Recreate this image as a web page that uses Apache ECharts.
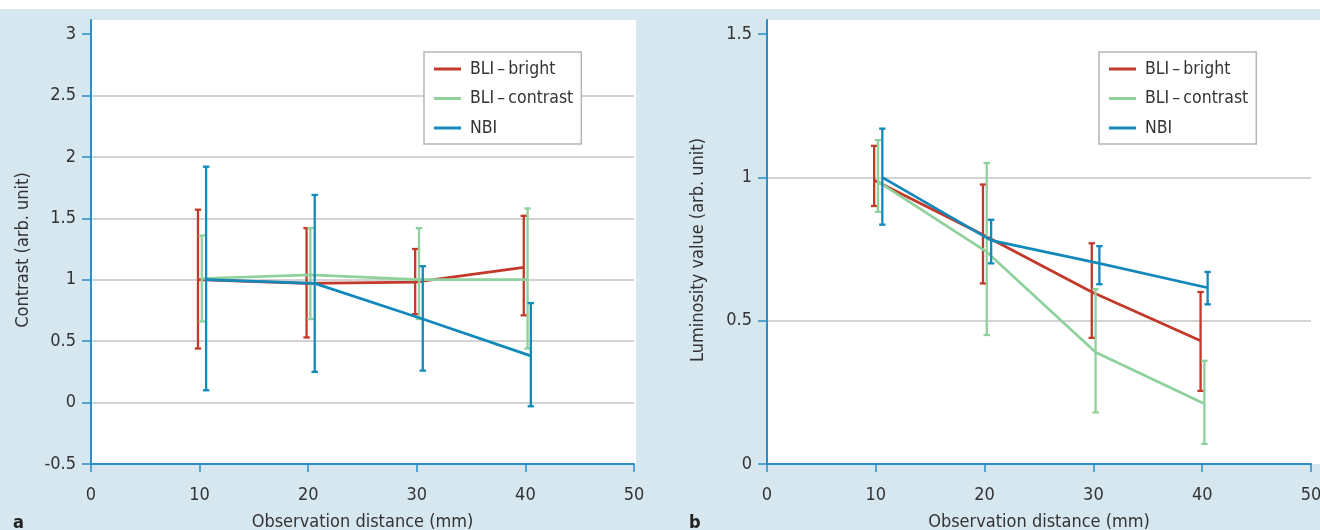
<!DOCTYPE html>
<html>
<head>
<meta charset="utf-8">
<script src="https://cdn.jsdelivr.net/npm/echarts@6.0.0/dist/echarts.min.js"></script>
<style>
  html, body { margin: 0; padding: 0; background: #ffffff; }
  #chart { width: 1320px; height: 530px; }
</style>
</head>
<body>
<div id="chart"></div>
<script>
// ---------- data ----------
const seriesNames = ['BLI\u2009\u2013\u2009bright', 'BLI\u2009\u2013\u2009contrast', 'NBI'];
const xTicks = [0, 10, 20, 30, 40, 50];
const yTicksA = [-0.5, 0, 0.5, 1, 1.5, 2, 2.5, 3];
const yTicksB = [0, 0.5, 1, 1.5];

// observation distances as plotted (slightly staggered per series)
const brightX   = [9.85, 19.85, 29.85, 39.85];
const contrastX = [10.2, 20.2, 30.2, 40.2];
const nbiX      = [10.6, 20.6, 30.55, 40.5];

// panel a: contrast
const brightMeanA   = [1.00, 0.97, 0.98, 1.10];
const brightLowA    = [0.44, 0.53, 0.72, 0.71];
const brightHighA   = [1.57, 1.42, 1.25, 1.52];
const contrastMeanA = [1.01, 1.04, 1.00, 1.00];
const contrastLowA  = [0.66, 0.68, 0.68, 0.44];
const contrastHighA = [1.36, 1.42, 1.42, 1.58];
const nbiMeanA      = [1.00, 0.97, 0.68, 0.38];
const nbiLowA       = [0.10, 0.25, 0.26, -0.03];
const nbiHighA      = [1.92, 1.69, 1.11, 0.81];

// panel b: luminosity
const brightMeanB   = [0.99, 0.80, 0.60, 0.43];
const brightLowB    = [0.90, 0.63, 0.44, 0.255];
const brightHighB   = [1.11, 0.975, 0.77, 0.60];
const contrastMeanB = [0.985, 0.74, 0.39, 0.21];
const contrastLowB  = [0.88, 0.45, 0.18, 0.07];
const contrastHighB = [1.13, 1.05, 0.61, 0.36];
const nbiMeanB      = [1.00, 0.78, 0.70, 0.615];
const nbiLowB       = [0.835, 0.70, 0.627, 0.557];
const nbiHighB      = [1.17, 0.852, 0.76, 0.67];

// ---------- styling ----------
const colors = ['#c4382a', '#8fd19c', '#1288bb'];
const axisBlue = '#2a8fc6';
const bgBlue = '#d7e7f0';
const FONT = '"Liberation Sans Narrow", "DejaVu Sans Condensed", "Roboto Condensed", "Open Sans", sans-serif';
const textColor = '#333333';

function zip2(xs, ys) { return xs.map((x, i) => [x, ys[i]]); }
function zip3(xs, lo, hi) { return xs.map((x, i) => [x, lo[i], hi[i]]); }

function errRender(params, api) {
  const x = api.value(0), lo = api.value(1), hi = api.value(2);
  const p1 = api.coord([x, lo]);
  const p2 = api.coord([x, hi]);
  const hw = 3.2;
  const style = { stroke: api.visual('color'), lineWidth: 2.3 };
  return {
    type: 'group',
    children: [
      { type: 'line', shape: { x1: p1[0], y1: p1[1], x2: p2[0], y2: p2[1] }, style: style },
      { type: 'line', shape: { x1: p1[0] - hw, y1: p1[1], x2: p1[0] + hw, y2: p1[1] }, style: style },
      { type: 'line', shape: { x1: p2[0] - hw, y1: p2[1], x2: p2[0] + hw, y2: p2[1] }, style: style }
    ]
  };
}

function panelSeries(gridIdx, xsArr, means, lows, highs) {
  const out = [];
  for (let i = 0; i < 3; i++) {
    out.push({
      type: 'custom', name: seriesNames[i],
      xAxisIndex: gridIdx, yAxisIndex: gridIdx,
      renderItem: errRender,
      itemStyle: { color: colors[i] },
      encode: { x: 0, y: [1, 2] },
      data: zip3(xsArr[i], lows[i], highs[i]),
      z: 3 + i * 2, silent: true
    });
    out.push({
      type: 'line', name: seriesNames[i],
      xAxisIndex: gridIdx, yAxisIndex: gridIdx,
      showSymbol: false, symbol: 'none',
      lineStyle: { color: colors[i], width: 2.7 },
      itemStyle: { color: colors[i] },
      data: zip2(xsArr[i], means[i]),
      z: 4 + i * 2, silent: true, animation: false
    });
  }
  return out;
}

const xsArr = [brightX, contrastX, nbiX];

function xAxisCfg(gridIndex) {
  return {
    type: 'value', gridIndex: gridIndex, min: 0, max: 50, interval: 10,
    name: 'Observation distance (mm)', nameLocation: 'middle', nameGap: 49,
    nameTextStyle: { fontFamily: FONT, fontSize: 18, color: textColor },
    axisLine: { show: true, onZero: false, lineStyle: { color: axisBlue, width: 2 } },
    axisTick: { show: true, length: 8, lineStyle: { color: axisBlue, width: 1.5 } },
    axisLabel: { fontFamily: FONT, fontSize: 18, color: textColor, margin: 22, customValues: xTicks },
    splitLine: { show: false }
  };
}
function yAxisCfg(gridIndex, min, max, interval, ticks, name, nameGap) {
  return {
    type: 'value', gridIndex: gridIndex, min: min, max: max, interval: interval,
    name: name, nameLocation: 'middle', nameGap: nameGap,
    nameTextStyle: { fontFamily: FONT, fontSize: 18, color: textColor, padding: [0, 16, 0, 0] },
    axisLine: { show: true, onZero: false, lineStyle: { color: axisBlue, width: 2 } },
    axisTick: { show: true, length: 9, lineStyle: { color: axisBlue, width: 1.5 }, customValues: ticks },
    axisLabel: { fontFamily: FONT, fontSize: 18, color: textColor, margin: 15, customValues: ticks },
    splitLine: { show: true, showMaxLine: false, showMinLine: false, lineStyle: { color: '#c4c4c4', width: 1.5 } }
  };
}

function legendCfg(left) {
  return {
    orient: 'vertical', left: left, top: 52,
    data: seriesNames.map(n => ({ name: n, icon: 'rect' })),
    itemWidth: 27, itemHeight: 3, itemGap: 9.5,
    padding: [7, 8, 6, 10],
    backgroundColor: '#ffffff', borderColor: '#b5b5b5', borderWidth: 1.5, borderRadius: 0,
    selectedMode: false,
    textStyle: { fontFamily: FONT, fontSize: 17.5, color: textColor, lineHeight: 20, padding: [0, 0, 0, 4] }
  };
}

const chart = echarts.init(document.getElementById('chart'), null, { renderer: 'canvas' });
chart.setOption({
  animation: false,
  backgroundColor: '#ffffff',
  graphic: {
    elements: [
      { type: 'rect', z: -100, silent: true, shape: { x: 0, y: 9, width: 1320, height: 521 }, style: { fill: bgBlue } },
      { type: 'rect', z: -99, silent: true, shape: { x: 91, y: 20, width: 545, height: 444 }, style: { fill: '#ffffff' } },
      { type: 'rect', z: -99, silent: true, shape: { x: 767, y: 20, width: 553, height: 444 }, style: { fill: '#ffffff' } }
    ]
  },
  title: [
    { text: 'a', left: 8, top: 509, textStyle: { fontFamily: FONT, fontSize: 18, fontWeight: 'bold', color: '#222' } },
    { text: 'b', left: 684, top: 509, textStyle: { fontFamily: FONT, fontSize: 18, fontWeight: 'bold', color: '#222' } }
  ],
  legend: [legendCfg(424), legendCfg(1099)],
  grid: [
    { left: 91, top: 20, width: 543, height: 444, containLabel: false, outerBoundsMode: 'none' },
    { left: 767, top: 20, width: 544, height: 444, containLabel: false, outerBoundsMode: 'none' }
  ],
  xAxis: [xAxisCfg(0), xAxisCfg(1)],
  yAxis: [
    yAxisCfg(0, -0.5, 3.114, 0.5, yTicksA, 'Contrast (arb. unit)', 59),
    yAxisCfg(1, 0, 1.549, 0.5, yTicksB, 'Luminosity value (arb. unit)', 60)
  ],
  series: [].concat(
    panelSeries(0, xsArr,
      [brightMeanA, contrastMeanA, nbiMeanA],
      [brightLowA, contrastLowA, nbiLowA],
      [brightHighA, contrastHighA, nbiHighA]),
    panelSeries(1, xsArr,
      [brightMeanB, contrastMeanB, nbiMeanB],
      [brightLowB, contrastLowB, nbiLowB],
      [brightHighB, contrastHighB, nbiHighB])
  )
});
</script>
</body>
</html>
